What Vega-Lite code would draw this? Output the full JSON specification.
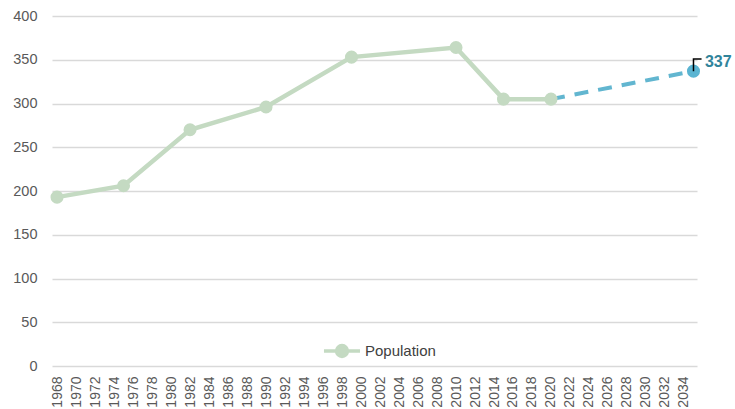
{
  "$schema": "https://vega.github.io/schema/vega-lite/v6.json",
  "autosize": {"type": "none"},
  "width": 645,
  "height": 350,
  "padding": {"left": 52, "top": 16, "right": 38, "bottom": 43},
  "background": "white",
  "config": {
    "view": {"stroke": null},
    "font": "Liberation Sans",
    "axisX": {
      "labelOverlap": false,
      "labelFlush": false,
      "labelAngle": -90,
      "labelAlign": "right",
      "labelBaseline": "middle",
      "labelFontSize": 14,
      "labelColor": "#595959",
      "labelPadding": 10,
      "ticks": false,
      "domain": false,
      "grid": false,
      "title": null
    },
    "axisY": {
      "labelFontSize": 14.5,
      "labelColor": "#595959",
      "labelPadding": 15,
      "ticks": false,
      "domain": false,
      "grid": true,
      "gridColor": "#D9D9D9",
      "gridWidth": 1.3,
      "title": null
    }
  },
  "datasets": {
    "pop": [
      {"year": 1968, "value": 193, "series": "Population"},
      {"year": 1975, "value": 206, "series": "Population"},
      {"year": 1982, "value": 270, "series": "Population"},
      {"year": 1990, "value": 296, "series": "Population"},
      {"year": 1999, "value": 353, "series": "Population"},
      {"year": 2010, "value": 364, "series": "Population"},
      {"year": 2015, "value": 305, "series": "Population"},
      {"year": 2020, "value": 305, "series": "Population"},
      {"year": 2035, "value": 337, "series": "Projection"}
    ],
    "proj": [
      {"year": 2020, "value": 305},
      {"year": 2035, "value": 337}
    ],
    "leader": [
      {"year": 2035, "value": 337, "ord": 1},
      {"year": 2035, "value": 350.9, "ord": 2},
      {"year": 2035.85, "value": 350.9, "ord": 3}
    ],
    "label": [
      {"year": 2036.2, "value": 347.5, "text": "337"}
    ]
  },
  "encoding": {
    "x": {
      "field": "year", "type": "quantitative",
      "scale": {"domain": [1967.47, 2035.37], "nice": false, "zero": false},
      "axis": {
        "values": [1968,1970,1972,1974,1976,1978,1980,1982,1984,1986,1988,1990,1992,1994,1996,1998,2000,2002,2004,2006,2008,2010,2012,2014,2016,2018,2020,2022,2024,2026,2028,2030,2032,2034],
        "format": "d",
        "labelOverlap": false
      }
    },
    "y": {
      "field": "value", "type": "quantitative",
      "scale": {"domain": [0, 400], "nice": false},
      "axis": {"values": [0,50,100,150,200,250,300,350,400]}
    }
  },
  "layer": [
    {
      "data": {"name": "pop"},
      "transform": [{"filter": "datum.series === 'Population'"}],
      "mark": {"type": "line", "strokeWidth": 4.5},
      "encoding": {
        "stroke": {
          "field": "series", "type": "nominal",
          "scale": {"domain": ["Population"], "range": ["#C4DAC2"]},
          "legend": {
            "title": null,
            "orient": "none",
            "legendX": 270,
            "legendY": 315,
            "symbolType": "M-1,0L1,0M-0.3,0A0.3,0.3,0,1,1,0.3,0A0.3,0.3,0,1,1,-0.3,0",
            "symbolSize": 1300,
            "symbolStrokeWidth": 3.5,
            "symbolFillColor": "#C4DAC2",
            "labelFontSize": 15,
            "labelColor": "#404040",
            "labelOffset": 3,
            "encode": {
              "symbols": {
                "update": {
                  "fill": {"value": "#C4DAC2"},
                  "fillOpacity": {"value": 1},
                  "strokeWidth": {"value": 3.5},
                  "opacity": {"value": 1}
                }
              }
            }
          }
        }
      }
    },
    {
      "data": {"name": "proj"},
      "mark": {"type": "line", "color": "#62B6D0", "strokeWidth": 4, "strokeDash": [14, 10]}
    },
    {
      "data": {"name": "pop"},
      "mark": {"type": "point", "filled": true, "opacity": 1, "size": 170},
      "encoding": {
        "fill": {
          "field": "series", "type": "nominal",
          "scale": {"domain": ["Population", "Projection"], "range": ["#C4DAC2", "#5AB4D2"]},
          "legend": null
        }
      }
    },
    {
      "data": {"name": "leader"},
      "mark": {"type": "line", "color": "#000000", "strokeWidth": 1.5},
      "encoding": {
        "order": {"field": "ord", "type": "quantitative"}
      }
    },
    {
      "data": {"name": "label"},
      "mark": {"type": "text", "align": "left", "baseline": "middle", "fontWeight": "bold", "fontSize": 16, "color": "#31849B"},
      "encoding": {
        "text": {"field": "text", "type": "nominal"}
      }
    }
  ]
}
